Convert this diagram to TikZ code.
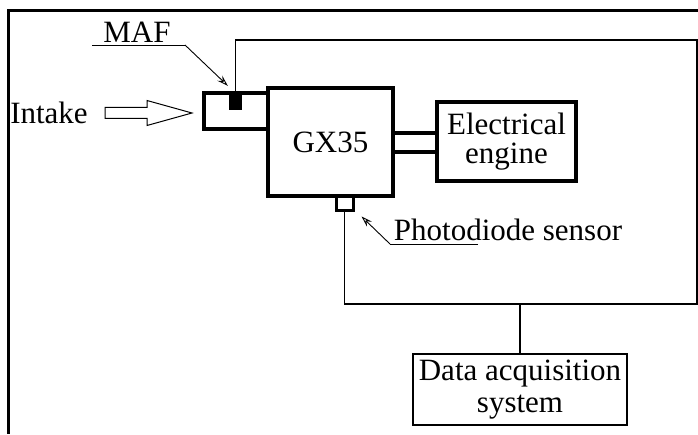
\documentclass[tikz,border=0pt]{standalone}
\usepackage{fontspec}
\setmainfont{Liberation Serif}
\usetikzlibrary{arrows.meta}
\tikzset{
  unit/.style={draw, line width=4pt, inner sep=0pt, fill=white},
  wire/.style={line width=1.3pt},
  leader/.style={line width=0.9pt, -{Stealth[open,length=11pt,width=7pt,inset=4pt]}},
  lbl/.style={font=\fontsize{31}{32}\selectfont, inner sep=0pt},
}
\begin{document}
\begin{tikzpicture}[x=1pt,y=1pt]
  \useasboundingbox (0,0) rectangle (698,434);
  % frame
  \draw[line width=3pt] (698,423.5) -- (8.3,423.5) -- (8.3,0);
  % intake housing with MAF
  \node[unit, minimum width=64pt, minimum height=36pt] (house) at (236,323) {};
  \node[fill=black, minimum width=13pt, minimum height=17pt, inner sep=0pt] (maf) at (235.5,332.5) {};
  % engine blocks
  \node[unit, lbl, minimum width=125pt, minimum height=108pt] (gx) at (330.5,292) {GX35};
  \node[unit, lbl, minimum width=139pt, minimum height=79pt, align=center,
        font=\fontsize{31}{29}\selectfont] (eng) at (506.5,292.5) {Electrical\\engine};
  \node[draw, line width=3pt, fill=white, minimum width=17pt, minimum height=14pt, inner sep=0pt] (pd) at (344.5,230) {};
  % shaft
  \draw[line width=4pt] ([yshift=9pt]gx.east) -- ([yshift=9pt]gx.east -| eng.west);
  \draw[line width=4pt] ([yshift=-10pt]gx.east) -- ([yshift=-10pt]gx.east -| eng.west);
  % acquisition
  \node[draw, lbl, line width=1.3pt, minimum width=214pt, minimum height=71pt, align=center,
        font=\fontsize{31}{32}\selectfont] (daq) at (520,44.5) {Data acquisition\\system};
  \coordinate (ne) at (697,394);
  \coordinate (se) at (697,130);
  \draw[wire] (maf.north) |- (ne) -- (se) -| (pd.south);
  \draw[wire] (daq.north) -- (daq.north |- se);
  % intake
  \node[lbl] (intake) at (49,321) {Intake};
  \draw[line width=1pt] (105,315.5) -- (147,315.5) -- (147,308.5) -- (192,321)
    -- (147,333.5) -- (147,326.5) -- (105,326.5) -- cycle;
  % labels
  \node[lbl] (maflbl) at (137,402) {MAF};
  \coordinate (mafu) at (185,389);
  \draw[line width=0.9pt] (92,389) -- (mafu);
  \draw[leader] (mafu) -- ([shift={(-1pt,7pt)}]maf.north west);
  \node[lbl] (pdlbl) at (508,204) {Photodiode sensor};
  \coordinate (pdu) at (390,190);
  \draw[line width=0.9pt] (478,190) -- (pdu);
  \draw[leader] (pdu) -- ([shift={(7pt,-4pt)}]pd.south east);
\end{tikzpicture}
\end{document}
